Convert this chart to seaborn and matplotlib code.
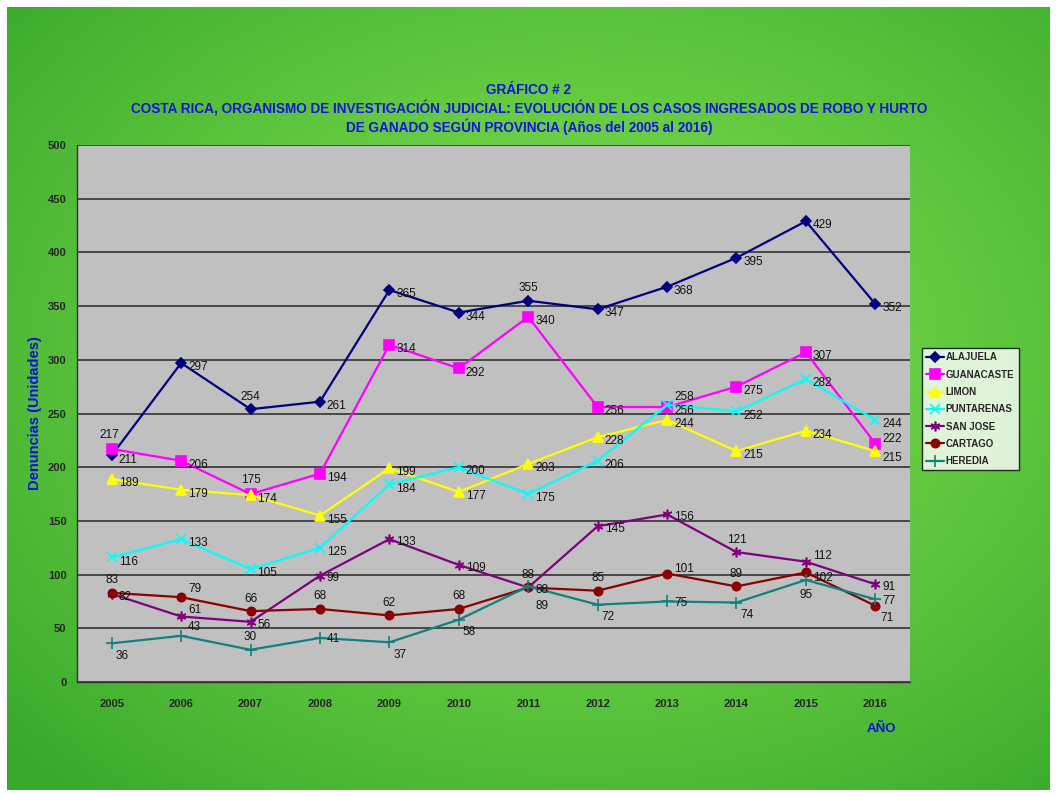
import numpy as np
import pandas as pd
import matplotlib
matplotlib.use("Agg")
import matplotlib.pyplot as plt
import seaborn as sns

# data
years = [2005, 2006, 2007, 2008, 2009, 2010, 2011, 2012, 2013, 2014, 2015, 2016]
alajuela = [211, 297, 254, 261, 365, 344, 355, 347, 368, 395, 429, 352]
guanacaste = [217, 206, 175, 194, 314, 292, 340, 256, 256, 275, 307, 222]
limon = [189, 179, 174, 155, 199, 177, 203, 228, 244, 215, 234, 215]
puntarenas = [116, 133, 105, 125, 184, 200, 175, 206, 258, 252, 282, 244]
san_jose = [82, 61, 56, 99, 133, 109, 88, 145, 156, 121, 112, 91]
cartago = [83, 79, 66, 68, 62, 68, 88, 85, 101, 89, 102, 71]
heredia = [36, 43, 30, 41, 37, 58, 89, 72, 75, 74, 95, 77]

provinces = ["ALAJUELA", "GUANACASTE", "LIMON", "PUNTARENAS", "SAN JOSE", "CARTAGO", "HEREDIA"]
series = [alajuela, guanacaste, limon, puntarenas, san_jose, cartago, heredia]

colors = {"ALAJUELA": "#000080", "GUANACASTE": "#ff00ff", "LIMON": "#ffff00",
          "PUNTARENAS": "#00ffff", "SAN JOSE": "#800080", "CARTAGO": "#8b0000",
          "HEREDIA": "#108080"}
markers = {"ALAJUELA": "D", "GUANACASTE": "s", "LIMON": "^", "PUNTARENAS": "x",
           "SAN JOSE": (6, 2, 0), "CARTAGO": "o", "HEREDIA": "+"}
msizes = {"ALAJUELA": 5, "GUANACASTE": 7, "LIMON": 7, "PUNTARENAS": 7,
          "SAN JOSE": 7, "CARTAGO": 6, "HEREDIA": 8}

# where the value labels go (offset in points, horizontal alignment)
label_pos = {"ALAJUELA": ((5, -3), 'left'), "GUANACASTE": ((5, -3), 'left'),
             "LIMON": ((5, -3), 'left'), "PUNTARENAS": ((5, -3), 'left'),
             "SAN JOSE": ((5, -2), 'left'), "CARTAGO": ((0, 9), 'center'),
             "HEREDIA": ((3, -9), 'left')}
label_fix = {("GUANACASTE", 2005): ((-2, 10), 'center'), ("GUANACASTE", 2007): ((0, 10), 'center'),
             ("ALAJUELA", 2011): ((0, 9), 'center'), ("ALAJUELA", 2007): ((0, 9), 'center'),
             ("PUNTARENAS", 2013): ((5, 6), 'left'), ("CARTAGO", 2015): ((5, -4), 'left'),
             ("CARTAGO", 2016): ((4, -9), 'left'), ("HEREDIA", 2016): ((5, -1), 'left'),
             ("CARTAGO", 2013): ((5, 3), 'left'), ("CARTAGO", 2006): ((5, 6), 'left'),
             ("HEREDIA", 2006): ((5, 6), 'left'), ("HEREDIA", 2013): ((5, -1), 'left'),
             ("HEREDIA", 2008): ((5, -1), 'left'), ("HEREDIA", 2007): ((0, 9), 'center'),
             ("SAN JOSE", 2014): ((0, 9), 'center'), ("SAN JOSE", 2015): ((5, 4), 'left'),
             ("SAN JOSE", 2006): ((5, 5), 'left'),
             ("GUANACASTE", 2016): ((5, 3), 'left'), ("LIMON", 2016): ((5, -5), 'left'),
             ("HEREDIA", 2011): ((5, -14), 'left'), ("HEREDIA", 2015): ((0, -11), 'center')}

rows = []
for name, vals in zip(provinces, series):
    for i, v in enumerate(vals):
        rows.append({"idx": i, "year": years[i], "prov": name, "val": v})
df = pd.DataFrame(rows)

sns.set_style("white")
plt.rcParams['font.family'] = ['Liberation Sans', 'DejaVu Sans']

fig = plt.figure(figsize=(10.58, 7.95), dpi=100)

# green gradient background with thin white border
bg = fig.add_axes([7 / 1058, 5 / 795, 1043 / 1058, 783 / 795], zorder=-10)
yy, xx = np.mgrid[0:1:200j, 0:1:200j]
d = np.sqrt(((xx - 0.55) / 0.75) ** 2 + ((yy - 0.45) / 0.75) ** 2)
d = np.clip(d, 0, 1) ** 1.3
c_in = np.array([0.49, 0.87, 0.30])
c_out = np.array([0.22, 0.66, 0.17])
img = c_in[None, None, :] * (1 - d[..., None]) + c_out[None, None, :] * d[..., None]
bg.imshow(img, aspect='auto', extent=[0, 1, 0, 1])
bg.axis('off')

ax = fig.add_axes([77 / 1058, 1 - 682 / 795, 833 / 1058, 537 / 795])
ax.set_facecolor('#c0c0c0')

for name in provinces:
    sub = df[df.prov == name]
    sns.lineplot(data=sub, x="idx", y="val", ax=ax, color=colors[name],
                 marker=markers[name], markersize=msizes[name],
                 markeredgecolor=colors[name], markeredgewidth=1.2,
                 linewidth=1.6, label=name, legend=False)
    for i, yr, v in zip(sub.idx, sub.year, sub.val):
        off, ha = label_fix.get((name, yr), label_pos[name])
        ax.annotate(str(v), (i, v), xytext=off, textcoords='offset points',
                    ha=ha, va='center', fontsize=8.5, color='#111111')

ax.set_xlim(-0.5, len(years) - 0.5)
ax.set_ylim(0, 500)
ax.set_yticks(range(0, 501, 50))
ax.set_xticks(range(len(years)))
ax.set_xticklabels([str(y) for y in years], fontsize=8, fontweight='bold')
ax.set_xticks(np.arange(-0.5, len(years), 1), minor=True)
ax.tick_params(axis='x', which='major', length=0, pad=12)
ax.tick_params(axis='x', which='minor', length=4, direction='out', width=1)
ax.tick_params(axis='y', length=4, direction='out', width=1, labelsize=8)
for lab in ax.get_yticklabels():
    lab.set_fontweight('bold')
ax.grid(axis='y', color='#333333', linewidth=1.2)
ax.set_axisbelow(True)
for s in ['top', 'right']:
    ax.spines[s].set_visible(False)
for s in ['left', 'bottom']:
    ax.spines[s].set_color('#333333')
    ax.spines[s].set_linewidth(1)

ax.set_xlabel('')
ax.set_ylabel('Denuncias (Unidades)', fontsize=10.5, fontweight='bold', color='#1010e0', labelpad=4)
ax.text(0.983, -0.087, 'AÑO', transform=ax.transAxes, ha='right', va='center',
        fontsize=9.5, fontweight='bold', color='#1010e0')

title_color = '#1414dc'
fig.text(0.5, 1 - 90 / 795, 'GRÁFICO # 2', ha='center', va='center',
         fontsize=9.8, fontweight='bold', color=title_color)
fig.text(0.5, 1 - 108 / 795,
         'COSTA RICA, ORGANISMO DE INVESTIGACIÓN JUDICIAL: EVOLUCIÓN DE LOS CASOS INGRESADOS DE ROBO Y HURTO',
         ha='center', va='center', fontsize=9.8, fontweight='bold', color=title_color)
fig.text(0.5, 1 - 127 / 795, 'DE GANADO SEGÚN PROVINCIA (Años del 2005 al 2016)',
         ha='center', va='center', fontsize=9.8, fontweight='bold', color=title_color)

handles, labels = ax.get_legend_handles_labels()
leg = fig.legend(handles, labels, loc='upper left', bbox_to_anchor=(922 / 1058, 1 - 348 / 795),
                 prop={'size': 7, 'weight': 'bold'}, frameon=True, fancybox=False,
                 edgecolor='black', handlelength=1.8, handletextpad=0.2,
                 labelspacing=0.75, borderpad=0.45, borderaxespad=0)
leg.get_frame().set_linewidth(1)
leg.get_frame().set_facecolor('white')

fig.savefig('out.png', dpi=100)
